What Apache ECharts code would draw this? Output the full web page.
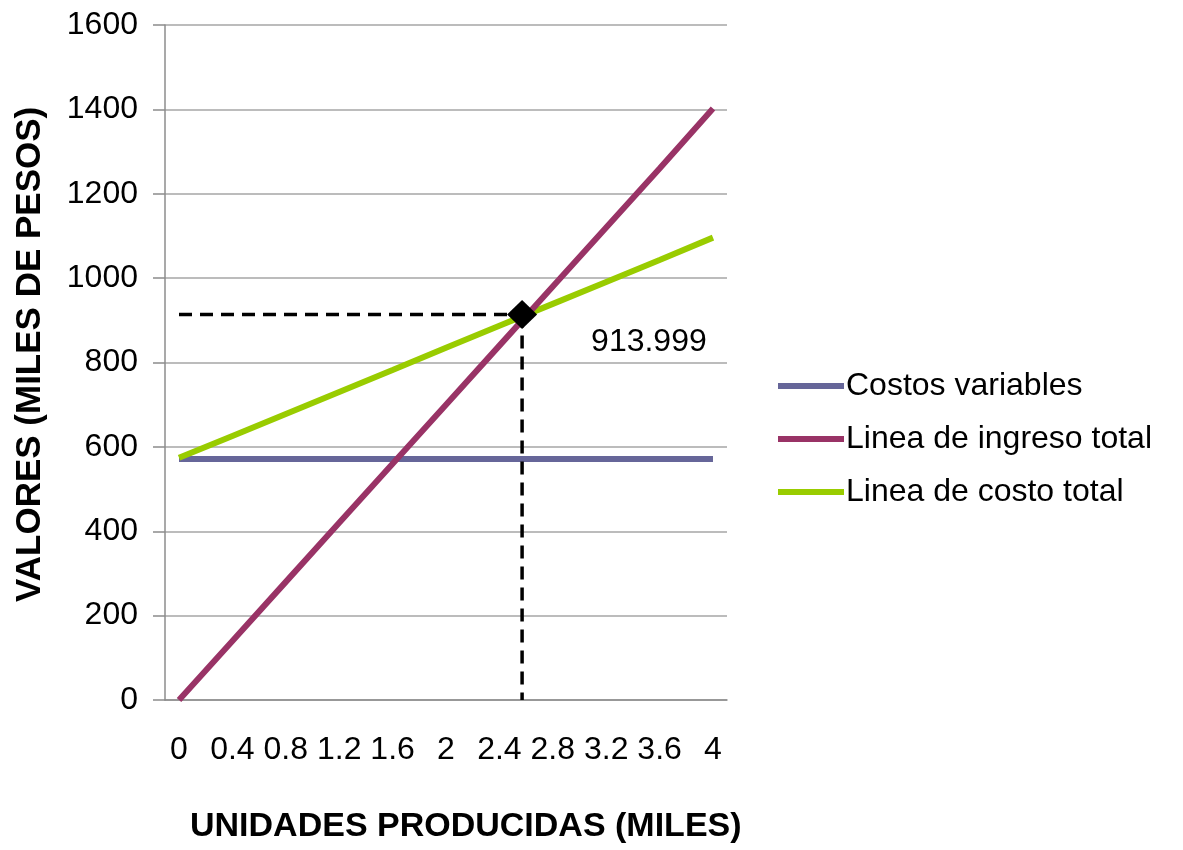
<!DOCTYPE html>
<html>
<head>
<meta charset="utf-8">
<script src="https://cdn.jsdelivr.net/npm/echarts@6/dist/echarts.min.js"></script>
<style>
html,body{margin:0;padding:0;background:#fff;}
#c{width:1183px;height:850px;}
</style>
</head>
<body>
<div id="c"></div>
<script>
// ---- data ----
const xValues = [0, 0.4, 0.8, 1.2, 1.6, 2, 2.4, 2.8, 3.2, 3.6, 4];
const xTickLabels = [0, 0.4, 0.8, 1.2, 1.6, 2, 2.4, 2.8, 3.2, 3.6, 4];
const costosVariables = [571, 571, 571, 571, 571, 571, 571, 571, 571, 571, 571];
const ingresoTotal = [0, 140, 280, 420, 560, 700, 840, 980, 1120, 1260, 1402];
const costoTotal = [574, 626, 678, 730, 782, 835, 887, 939, 991, 1043, 1096];
const breakEvenX = 2.57;
const breakEvenY = 913.999;
const seriesNames = ['Costos variables', 'Linea de ingreso total', 'Linea de costo total'];
const xTitle = 'UNIDADES PRODUCIDAS (MILES)';
const yTitle = 'VALORES (MILES DE PESOS)';

const pair = (ys) => xValues.map((x, i) => [x, ys[i]]);
const FONT = '"Liberation Sans", Arial, sans-serif';

const chart = echarts.init(document.getElementById('c'), null, {renderer: 'canvas'});
chart.setOption({
  animation: false,
  backgroundColor: '#ffffff',
  grid: {left: 165, right: 456, top: 25, bottom: 150, containLabel: false},
  xAxis: {
    type: 'value', min: -0.105, max: 4.105,
    axisLine: {show: true, onZero: false, lineStyle: {color: '#8c8c8c', width: 1.5}},
    axisTick: {show: false},
    splitLine: {show: false},
    axisLabel: {
      customValues: xTickLabels,
      margin: 34, color: '#000', fontSize: 32, fontFamily: FONT,
      formatter: (v) => String(+(+v).toFixed(1))
    }
  },
  yAxis: {
    type: 'value', min: 0, max: 1600, interval: 200,
    axisLine: {show: true, onZero: false, lineStyle: {color: '#8c8c8c', width: 1.5}},
    axisTick: {show: true, length: 12, lineStyle: {color: '#8c8c8c', width: 1.5}},
    splitLine: {show: true, lineStyle: {color: '#a6a6a6', width: 1.5}},
    axisLabel: {margin: 27, color: '#000', fontSize: 32, fontFamily: FONT,
      formatter: (v) => String(v)}
  },
  legend: {
    orient: 'vertical', left: 773, top: 365,
    icon: 'rect', itemWidth: 66, itemHeight: 6, itemGap: 21,
    textStyle: {fontSize: 32, fontFamily: FONT, color: '#000', padding: [0, 0, 0, -3]},
    data: seriesNames
  },
  series: [
    {name: seriesNames[0], type: 'line', data: pair(costosVariables), showSymbol: false, symbol: 'none',
     lineStyle: {color: '#666699', width: 6}, itemStyle: {color: '#666699'}, z: 3},
    {name: seriesNames[1], type: 'line', data: pair(ingresoTotal), showSymbol: false, symbol: 'none',
     lineStyle: {color: '#993366', width: 6}, itemStyle: {color: '#993366'}, z: 4},
    {name: seriesNames[2], type: 'line', data: pair(costoTotal), showSymbol: false, symbol: 'none',
     lineStyle: {color: '#99cc00', width: 6}, itemStyle: {color: '#99cc00'}, z: 3},
    {name: 'h', type: 'line', data: [[0, breakEvenY], [breakEvenX, breakEvenY]], symbol: 'none',
     lineStyle: {color: '#000', width: 3.5, type: [13, 8]}, z: 5, silent: true},
    {name: 'v', type: 'line', data: [[breakEvenX, breakEvenY], [breakEvenX, 0]], symbol: 'none',
     lineStyle: {color: '#000', width: 3.5, type: [13, 8]}, z: 5, silent: true},
    {name: 'pe', type: 'scatter', data: [[breakEvenX, breakEvenY]], symbol: 'diamond', symbolSize: [30, 29],
     itemStyle: {color: '#000', opacity: 1}, z: 6,
     label: {show: true, position: [84, 26], color: '#000', fontSize: 32, fontFamily: FONT,
       formatter: (p) => p.value[1].toFixed(3)}}
  ],
  graphic: [
    {type: 'text', left: 190, top: 810,
     style: {text: xTitle, font: 'bold 34px "Liberation Sans", Arial, sans-serif', fill: '#000'}},
    {type: 'text', rotation: Math.PI / 2, x: 13, y: 602,
     style: {text: yTitle, font: 'bold 35px "Liberation Sans", Arial, sans-serif', fill: '#000'}}
  ]
});
</script>
</body>
</html>
